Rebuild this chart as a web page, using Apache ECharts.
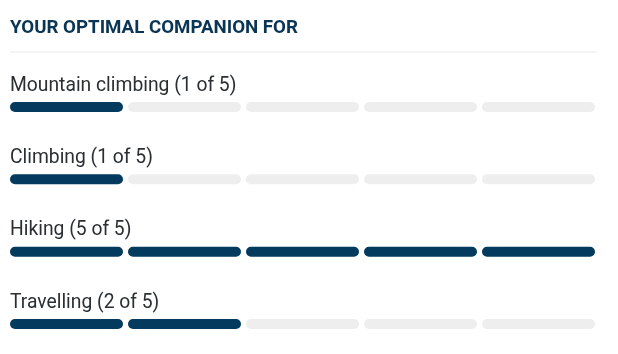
<!DOCTYPE html>
<html>
<head>
<meta charset="utf-8">
<script src="https://cdn.jsdelivr.net/npm/echarts@6/dist/echarts.min.js"></script>
<style>
  html, body { margin: 0; padding: 0; background: #fff; }
  #main-chart { width: 618px; height: 354px; }
</style>
</head>
<body>
<div id="main-chart"></div>
<script>
var activities = ['Mountain climbing', 'Climbing', 'Hiking', 'Travelling'];
var scores = [1, 1, 5, 2];
var maxScore = 5;

var mainChart;
var NAVY = '#033a5e';
var GREY = '#eeeeee';

window.onload = function () {
    chartInit();
}

function segmentData() {
    var rows = [];
    for (var r = 0; r < activities.length; r++) {
        for (var k = 0; k < maxScore; k++) {
            rows.push([k, r, scores[r]]);
        }
    }
    return rows;
}

function renderSegment(params, api) {
    var k = api.value(0);
    var row = api.value(1);
    var score = api.value(2);
    var start = api.coord([k, row]);
    var end = api.coord([k + 1, row]);
    var gap = 2.5;
    var h = 10;
    var children = [{
        type: 'rect',
        shape: { x: start[0] + gap, y: start[1] - h / 2, width: end[0] - start[0] - gap * 2, height: h, r: 5 },
        style: { fill: k < score ? NAVY : GREY }
    }];
    if (k === 0) {
        children.push({
            type: 'text',
            style: {
                x: start[0] + gap,
                y: start[1] - 21,
                text: activities[row] + ' (' + score + ' of ' + maxScore + ')',
                fill: '#2b2f33',
                font: '19.3px Roboto',
                verticalAlign: 'middle',
                align: 'left'
            }
        });
    }
    return { type: 'group', children: children };
}

function chartInit() {
    mainChart = echarts.init(document.getElementById('main-chart'));
    var mainOpt = {
        animation: false,
        title: {
            text: 'YOUR OPTIMAL COMPANION FOR',
            left: 5,
            top: 14,
            textStyle: { fontFamily: 'Roboto', fontWeight: 'bold', fontSize: 18.7, color: '#0b3554' }
        },
        graphic: [{
            type: 'line',
            shape: { x1: 10, y1: 52, x2: 597, y2: 52 },
            style: { stroke: '#e9e9e9', lineWidth: 1 }
        }],
        grid: { left: 7.5, right: 20.5, top: 107, bottom: 30 },
        xAxis: { type: 'value', min: 0, max: maxScore, show: false },
        yAxis: {
            type: 'category',
            data: activities,
            inverse: true,
            boundaryGap: false,
            show: false
        },
        series: [{
            type: 'custom',
            renderItem: renderSegment,
            clip: false,
            data: segmentData()
        }]
    };
    mainChart.setOption(mainOpt);
}
</script>
</body>
</html>
